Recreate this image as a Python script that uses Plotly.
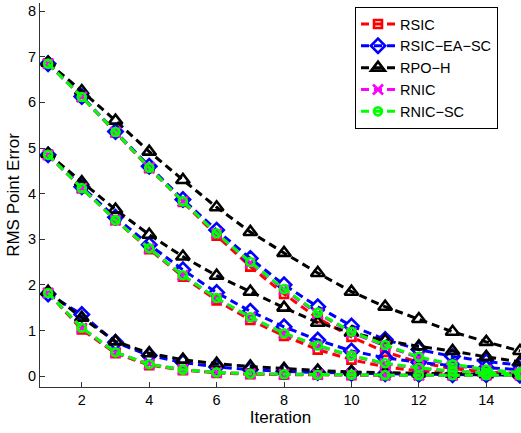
import plotly.graph_objects as go

iterations = list(range(1, 16))

# Three experiment groups (starting errors ~6.85, ~4.85, ~1.8), per method
rsic = [
    [6.85, 6.12, 5.34, 4.56, 3.82, 3.08, 2.40, 1.80, 1.27, 0.86, 0.53, 0.30, 0.16, 0.09, 0.05],
    [4.85, 4.12, 3.42, 2.78, 2.18, 1.66, 1.23, 0.88, 0.58, 0.36, 0.20, 0.11, 0.07, 0.05, 0.04],
    [1.82, 1.02, 0.50, 0.24, 0.13, 0.07, 0.04, 0.03, 0.03, 0.02, 0.02, 0.02, 0.02, 0.02, 0.02],
]
rsic_ea_sc = [
    [6.85, 6.13, 5.36, 4.60, 3.87, 3.20, 2.58, 2.00, 1.52, 1.10, 0.80, 0.58, 0.43, 0.32, 0.24],
    [4.85, 4.15, 3.48, 2.88, 2.33, 1.83, 1.42, 1.08, 0.79, 0.55, 0.40, 0.30, 0.23, 0.18, 0.14],
    [1.80, 1.35, 0.74, 0.45, 0.30, 0.20, 0.14, 0.10, 0.08, 0.06, 0.05, 0.04, 0.03, 0.03, 0.02],
]
rpo_h = [
    [6.87, 6.25, 5.60, 4.92, 4.30, 3.70, 3.16, 2.70, 2.26, 1.85, 1.52, 1.25, 0.97, 0.75, 0.55],
    [4.87, 4.25, 3.65, 3.10, 2.62, 2.20, 1.85, 1.50, 1.17, 0.95, 0.78, 0.65, 0.55, 0.42, 0.31],
    [1.85, 1.28, 0.76, 0.50, 0.36, 0.27, 0.21, 0.16, 0.12, 0.09, 0.07, 0.06, 0.05, 0.04, 0.04],
]
rnic = [
    [6.85, 6.12, 5.35, 4.57, 3.83, 3.13, 2.48, 1.89, 1.37, 0.95, 0.66, 0.40, 0.24, 0.13, 0.07],
    [4.85, 4.12, 3.42, 2.80, 2.21, 1.70, 1.28, 0.93, 0.66, 0.44, 0.27, 0.17, 0.10, 0.07, 0.05],
    [1.82, 1.05, 0.52, 0.26, 0.14, 0.08, 0.05, 0.04, 0.03, 0.03, 0.02, 0.02, 0.02, 0.02, 0.02],
]
rnic_sc = [
    [6.85, 6.12, 5.35, 4.57, 3.83, 3.13, 2.50, 1.91, 1.39, 0.97, 0.68, 0.42, 0.26, 0.14, 0.08],
    [4.85, 4.12, 3.42, 2.80, 2.21, 1.71, 1.29, 0.94, 0.67, 0.45, 0.28, 0.18, 0.11, 0.07, 0.05],
    [1.82, 1.06, 0.52, 0.26, 0.14, 0.08, 0.05, 0.04, 0.03, 0.03, 0.02, 0.02, 0.02, 0.02, 0.02],
]

names = ["RSIC", "RSIC\u2212EA\u2212SC", "RPO\u2212H", "RNIC", "RNIC\u2212SC"]
series = [rsic, rsic_ea_sc, rpo_h, rnic, rnic_sc]
colors = ["#FF0000", "#0000FF", "#000000", "#FF00FF", "#00FF00"]
symbols = ["square-open", "diamond-open", "triangle-up-open", "x-thin", "circle-open"]
sizes = [8, 11, 12, 10, 8]

FONT = "Liberation Sans, Arial, Helvetica, sans-serif"

fig = go.Figure()
for name, groups, color, sym, sz in zip(names, series, colors, symbols, sizes):
    xs, ys = [], []
    for g in groups:
        xs += iterations + [None]
        ys += g + [None]
    fig.add_trace(go.Scatter(
        x=xs, y=ys, name=name, mode="lines+markers",
        line=dict(color=color, width=3, dash="8px,5px"),
        marker=dict(symbol=sym, size=sz, color=color,
                    line=dict(color=color, width=2.6)),
    ))

fig.update_layout(
    width=521, height=433,
    margin=dict(l=40, r=0, t=3, b=46, autoexpand=False),
    paper_bgcolor="white", plot_bgcolor="white",
    font=dict(family=FONT, size=15, color="black"),
    showlegend=True,
    legend=dict(
        x=(355 - 40) / 481, y=(387 - 7) / 384, xanchor="left", yanchor="top",
        bgcolor="white", bordercolor="black", borderwidth=1,
        font=dict(family=FONT, size=14.5, color="black"),
        itemwidth=34, tracegroupgap=0,
        entrywidth=140, entrywidthmode="pixels",
    ),
    xaxis=dict(
        range=[0.76, 15.03], tickvals=[2, 4, 6, 8, 10, 12, 14],
        ticks="inside", ticklen=5, tickcolor="#333", showline=True,
        linecolor="#333", linewidth=1, showgrid=False, zeroline=False,
        tickfont=dict(size=14.5), automargin=False,
        title=dict(text="Iteration", font=dict(size=17), standoff=2),
    ),
    yaxis=dict(
        range=[-0.24, 8.18], tickvals=list(range(0, 9)),
        ticks="inside", ticklen=5, tickcolor="#333", showline=True,
        linecolor="#333", linewidth=1, showgrid=False, zeroline=False,
        tickfont=dict(size=14.5), automargin=False,
        title=dict(text="RMS Point Error", font=dict(size=17), standoff=4),
    ),
)

fig.write_html(
    "out.html",
    config={"displayModeBar": False},
    post_script="document.body.style.margin='0';document.body.style.padding='0';",
)
